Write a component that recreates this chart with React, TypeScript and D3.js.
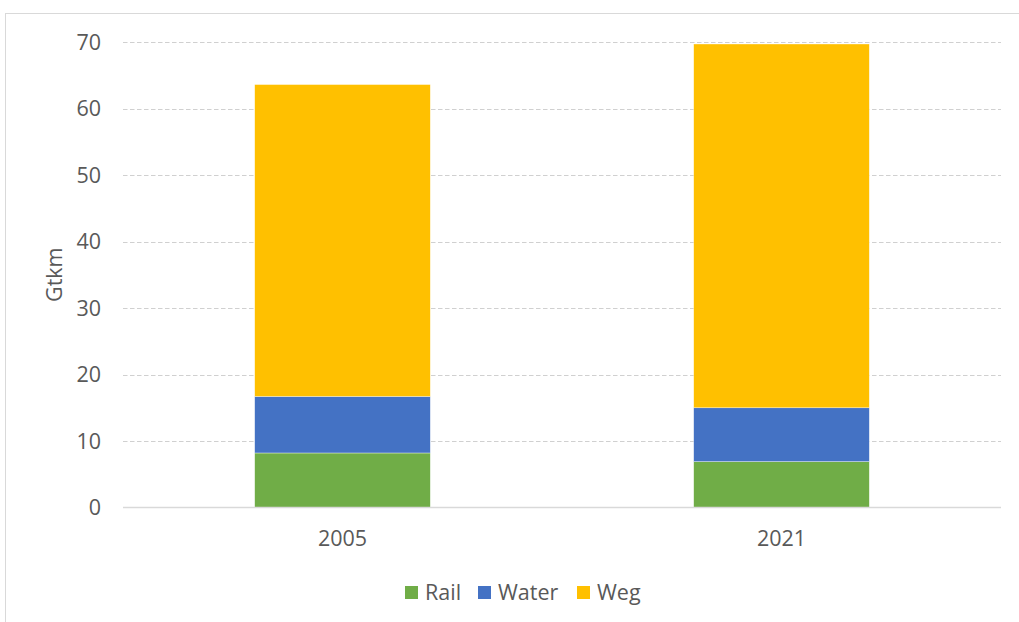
import React from "react";
import * as d3 from "d3";

const categories = ["2005", "2021"];
const seriesNames = ["Rail", "Water", "Weg"];
const rail = [8.2, 6.9];
const water = [8.5, 8.1];
const weg = [46.9, 54.7];
const yTicks = [0, 10, 20, 30, 40, 50, 60, 70];
const colors = ["#70ad47", "#4472c4", "#ffc000"];

const W = 1019;
const H = 622;
const plot = { left: 123, right: 1001, top: 42, bottom: 507.5 };
const font = "'Open Sans', 'Noto Sans', sans-serif";
const textColor = "#595959";
const fs = 21.5;

export default function App() {
  const rows = categories.map((c, i) => ({ cat: c, Rail: rail[i], Water: water[i], Weg: weg[i] }));
  const stacked = d3.stack<any>().keys(seriesNames)(rows);
  const x = d3.scaleBand().domain(categories).range([plot.left, plot.right]).paddingInner(0.6).paddingOuter(0.3);
  const y = d3.scaleLinear().domain([0, 70]).range([plot.bottom, plot.top]);

  const legendX = [405, 478, 577];

  return (
    <svg width={W} height={H} style={{ position: "absolute", left: 0, top: 0 }}>
      <rect x={0} y={0} width={W} height={H} fill="#fff" />
      <rect x={5.5} y={13.5} width={W + 10} height={H + 10} fill="none" stroke="#d9d9d9" strokeWidth={1} />
      {yTicks.map((t) => (
        <g key={t}>
          {t !== 0 && (
            <line x1={plot.left} x2={plot.right} y1={Math.round(y(t)) + 0.5} y2={Math.round(y(t)) + 0.5}
              stroke="#d0d0d0" strokeWidth={1.2} strokeDasharray="4.5,2.5" />
          )}
          <text x={101} y={y(t)} dy="0.36em" textAnchor="end" fontFamily={font} fontSize={fs} fill={textColor}>{t}</text>
        </g>
      ))}
      {stacked.map((s, si) => (
        <g key={s.key}>
          {s.map((d, i) => (
            <rect key={i} x={x(categories[i])} width={x.bandwidth()} y={y(d[1])} height={y(d[0]) - y(d[1])}
              fill={colors[si]} stroke="#ffffff" strokeWidth={0.6} strokeOpacity={0.6} />
          ))}
        </g>
      ))}
      <line x1={plot.left} x2={plot.right} y1={plot.bottom} y2={plot.bottom} stroke="#d9d9d9" strokeWidth={1.5} />
      {categories.map((c) => (
        <text key={c} x={(x(c) as number) + x.bandwidth() / 2} y={546} textAnchor="middle" fontFamily={font} fontSize={fs} fill={textColor}>{c}</text>
      ))}
      <text transform={`translate(62,${(plot.top + plot.bottom) / 2}) rotate(-90)`} textAnchor="middle"
        fontFamily={font} fontSize={fs} fill={textColor}>Gtkm</text>
      {seriesNames.map((n, i) => (
        <g key={n}>
          <rect x={legendX[i]} y={586} width={13} height={13} fill={colors[i]} />
          <text x={legendX[i] + 20} y={592.5} dy="0.36em" fontFamily={font} fontSize={fs} fill={textColor}>{n}</text>
        </g>
      ))}
    </svg>
  );
}
